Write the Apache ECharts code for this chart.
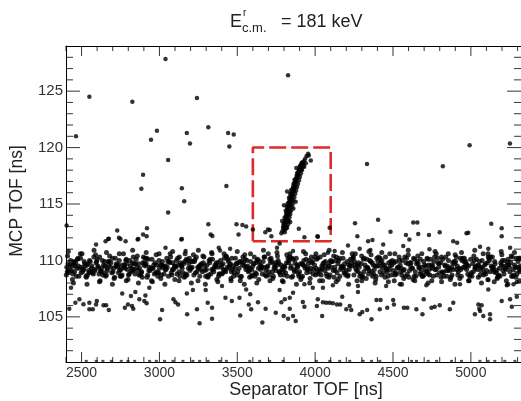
<!DOCTYPE html>
<html><head><meta charset="utf-8">
<script src="https://cdn.jsdelivr.net/npm/echarts@6/dist/echarts.min.js"></script>
<style>html,body{margin:0;padding:0;background:#fff}#c{width:521px;height:401px}</style>
</head><body><div id="c"></div>
<script>
const xRange = [2400, 5322];
const yRange = [101, 129];
const xMajorTicks = [2500, 3000, 3500, 4000, 4500, 5000];
const xMinorTicks = [2400,2600,2700,2800,2900,3100,3200,3300,3400,3600,3700,3800,3900,4100,4200,4300,4400,4600,4700,4800,4900,5100,5200,5300];
const yMajorTicks = [105, 110, 115, 120, 125];
const yMinorTicks = [102,103,104,106,107,108,109,111,112,113,114,116,117,118,119,121,122,123,124,126,127,128];
const boxX = [3600, 4100];
const boxY = [111.7, 120];

// dense band of events around 109.4 ns
const bandPoints = [
[2405,109.4],[2436,109.1],[2462,109.8],[2497,108.9],[2524,109.5],[2551,110.0],[2583,109.2],[2612,108.8],[2641,109.6],[2670,109.9],[2702,109.0],[2733,109.4],[2760,108.7],[2791,109.7],[2822,109.3],[2850,110.1],[2883,108.9],[2911,109.5],[2940,109.1],[2972,109.8],[3001,109.3],[3030,108.8],[3063,109.9],[3090,109.2],[3121,109.6],[3150,108.9],[3182,110.0],[3210,109.4],[3241,109.0],[3270,109.7],[3302,109.2],[3330,108.8],[3361,109.5],[3392,110.0],[3420,109.1],[3451,109.6],[3480,108.9],[3512,109.3],[3540,109.8],[3571,109.0],[3600,109.5],[3632,110.1],[3660,108.8],[3691,109.4],[3722,109.9],[3750,109.1],[3781,109.6],[3810,108.9],[3842,109.3],[3871,109.8],[3900,109.0],[3932,109.5],[3961,110.0],[3990,109.2],[4021,108.8],[4050,109.7],[4082,109.3],[4111,109.9],[4140,108.9],[4172,109.5],[4200,109.1],[4231,109.8],[4260,109.3],[4292,108.8],[4320,109.6],[4351,110.0],[4380,109.2],[4411,109.5],[4440,108.9],[4472,109.8],[4500,109.1],[4531,109.4],[4560,110.0],[4592,108.8],[4620,109.3],[4651,109.7],[4680,109.0],[4712,109.5],[4740,110.1],[4771,109.2],[4800,108.9],[4832,109.6],[4860,109.3],[4891,109.9],[4920,109.0],[4952,109.4],[4980,108.8],[5011,109.7],[5040,109.2],[5072,110.0],[5100,109.1],[5131,109.5],[5160,108.9],[5192,109.8],[5220,109.3],[5251,109.0],[5280,109.6],[5311,109.2],
[2418,108.9],[2449,109.7],[2477,110.2],[2510,109.2],[2538,108.7],[2566,109.5],[2597,109.9],[2626,109.0],[2655,108.6],[2686,109.4],[2717,110.2],[2745,109.1],[2776,109.6],[2806,108.8],[2836,109.2],[2866,109.7],[2897,110.3],[2925,108.7],[2956,109.3],[2987,109.0],[3015,109.6],[3047,110.2],[3076,108.9],[3106,109.4],[3135,109.8],[3166,108.6],[3196,109.1],[3225,109.9],[3256,109.5],[3286,110.3],[3316,108.7],[3345,109.2],[3376,109.8],[3406,108.9],[3436,109.4],[3465,110.2],[3496,109.7],[3526,108.6],[3555,109.2],[3586,109.9],[3616,108.9],[3646,109.6],[3676,110.3],[3706,108.7],[3736,109.3],[3766,109.8],[3796,109.1],[3826,110.2],[3856,108.6],[3886,109.4],[3916,109.7],[3946,108.9],[3976,110.3],[4006,109.3],[4036,109.1],[4066,109.9],[4096,108.7],[4126,109.4],[4156,110.2],[4186,108.9],[4216,109.6],[4246,110.3],[4276,109.0],[4306,108.6],[4336,109.4],[4366,109.8],[4396,110.2],[4426,108.7],[4456,109.3],[4486,109.9],[4516,108.9],[4546,109.6],[4576,110.3],[4606,109.1],[4636,108.6],[4666,109.4],[4696,109.9],[4726,108.8],[4756,109.5],[4786,110.2],[4816,109.0],[4846,108.6],[4876,109.4],[4906,110.3],[4936,109.2],[4966,109.7],[4996,108.7],[5026,109.3],[5056,109.9],[5086,108.9],[5116,110.2],[5146,109.4],[5176,108.6],[5206,109.1],[5236,109.8],[5266,110.3],[5296,108.8],[5318,109.5],
[2410,110.4],[2441,108.3],[2470,109.3],[2503,110.6],[2531,108.5],[2560,109.0],[2590,110.5],[2619,108.2],[2648,109.9],[2680,110.4],[2709,108.4],[2739,109.6],[2769,110.6],[2798,108.3],[2829,109.1],[2858,110.4],[2890,108.5],[2918,110.2],[2949,108.2],[2979,110.5],[3009,108.4],[3040,109.5],[3069,110.6],[3099,108.3],[3128,110.3],[3159,108.5],[3189,109.7],[3218,110.5],[3248,108.2],[3279,110.4],[3309,108.6],[3338,110.6],[3369,108.3],[3399,109.6],[3428,110.4],[3459,108.4],[3488,110.2],[3519,108.2],[3548,110.5],[3579,108.5],[3609,110.3],[3638,108.3],[3669,109.4],[3699,110.6],[3728,108.4],[3758,110.4],[3789,108.2],[3818,110.5],[3849,108.5],[3879,110.2],[3908,108.3],[3939,110.6],[3968,108.4],[3999,110.3],[4029,108.2],[4058,110.5],[4089,108.5],[4119,110.4],[4148,108.3],[4179,110.2],[4209,108.6],[4238,110.6],[4269,108.2],[4299,110.4],[4328,108.4],[4359,110.5],[4389,108.3],[4418,110.2],[4449,108.5],[4479,110.6],[4508,108.2],[4539,110.3],[4569,108.4],[4598,110.5],[4629,108.3],[4659,110.4],[4688,108.6],[4719,110.2],[4749,108.2],[4778,110.6],[4809,108.5],[4839,110.3],[4868,108.3],[4899,110.5],[4929,108.4],[4958,110.2],[4989,108.2],[5019,110.4],[5048,108.5],[5079,110.6],[5109,108.3],[5138,110.3],[5169,108.4],[5199,110.5],[5228,108.2],[5259,110.4],[5289,108.5],[5315,110.2],
[2426,109.6],[2455,109.0],[2488,109.3],[2517,109.9],[2545,109.1],[2576,108.8],[2604,109.5],[2634,110.0],[2663,109.3],[2694,108.9],[2724,109.7],[2752,109.2],[2784,110.0],[2813,109.5],[2843,108.8],[2873,109.3],[2904,109.8],[2932,109.1],[2963,109.6],[2994,108.9],[3022,109.4],[3054,109.9],[3083,109.2],[3113,108.8],[3142,109.5],[3173,110.1],[3203,109.3],[3232,108.9],[3263,109.6],[3293,109.1],[3323,109.8],[3352,109.4],[3383,108.8],[3413,109.2],[3443,109.9],[3472,109.5],[3503,109.0],[3533,109.6],[3562,110.0],[3593,109.2],[3623,108.8],[3653,109.5],[3683,109.1],[3713,109.8],[3743,109.4],[3773,108.9],[3803,109.5],[3833,110.0],[3863,109.2],[3893,108.8],[3923,109.6],[3953,109.3],[3983,109.9],[4013,109.0],[4043,109.5],[4073,108.8],[4103,109.4],[4133,110.0],[4163,109.2],[4193,108.9],[4223,109.5],[4253,109.9],[4283,109.4],[4313,109.0],[4343,108.8],[4373,109.6],[4403,109.9],[4433,109.3],[4463,109.0],[4493,109.6],[4523,108.8],[4553,109.3],[4583,109.8],[4613,109.5],[4643,109.0],[4673,108.8],[4703,109.6],[4733,109.2],[4763,109.9],[4793,109.4],[4823,108.9],[4853,109.1],[4883,109.8],[4913,109.5],[4943,110.0],[4973,109.2],[5003,108.9],[5033,109.5],[5063,109.1],[5093,109.7],[5123,109.0],[5153,109.9],[5183,109.3],[5213,108.8],[5243,109.6],[5273,109.2],[5303,109.9],
[2402,108.7],[2430,110.0],[2458,109.5],[2483,108.6],[2514,109.2],[2541,109.7],[2571,108.9],[2600,110.1],[2629,109.3],[2659,108.7],[2689,109.8],[2720,109.5],[2748,108.6],[2779,109.3],[2809,110.0],[2838,109.7],[2869,108.7],[2900,109.6],[2928,110.1],[2959,109.3],[2990,108.6],[3019,109.9],[3050,109.4],[3080,108.7],[3109,110.0],[3139,109.6],[3169,108.8],[3199,109.3],[3229,110.1],[3259,108.6],[3289,109.5],[3319,110.0],[3349,109.0],[3380,108.6],[3409,109.7],[3439,110.1],[3469,109.2],[3499,108.7],[3529,109.9],[3559,109.4],[3589,108.6],[3619,109.8],[3649,109.2],[3679,108.7],[3709,110.1],[3739,109.6],[3769,109.0],[3799,108.7],[3829,109.8],[3859,110.1],[3889,109.5],[3919,108.6],[3949,109.2],[3979,109.8],[4009,110.1],[4039,108.7],[4069,109.5],[4099,110.0],[4129,109.1],[4159,108.6],[4189,109.7],[4219,109.2],[4249,108.7],[4279,109.8],[4309,110.1],[4339,109.3],[4369,108.6],[4399,109.5],[4429,110.0],[4459,109.2],[4489,108.7],[4519,109.9],[4549,109.0],[4579,108.6],[4609,109.8],[4639,110.1],[4669,109.3],[4699,108.7],[4729,109.6],[4759,108.6],[4789,109.8],[4819,110.1],[4849,109.5],[4879,108.7],[4909,109.2],[4939,108.6],[4969,109.9],[4999,110.1],[5029,109.4],[5059,108.7],[5089,109.6],[5119,110.0],[5149,109.0],[5179,108.7],[5209,109.5],[5239,110.1],[5269,108.6],[5299,109.4],
[2415,110.8],[2448,108.0],[2492,110.6],[2535,107.9],[2580,110.9],[2615,108.1],[2660,110.7],[2698,107.9],[2742,110.6],[2787,108.2],[2828,110.9],[2865,108.0],[2915,110.7],[2955,108.1],[2998,110.6],[3035,107.9],[3085,110.8],[3126,108.2],[3165,110.6],[3205,108.0],[3250,110.9],[3295,107.9],[3335,110.7],[3375,108.1],[3415,110.6],[3460,108.2],[3500,110.8],[3545,107.9],[3585,110.6],[3625,108.0],[3668,110.9],[3710,108.2],[3755,110.7],[3795,108.1],[3838,110.6],[3880,107.9],[3925,110.8],[3965,108.0],[4005,110.6],[4048,108.2],[4090,110.9],[4135,108.1],[4175,110.7],[4215,107.9],[4258,110.6],[4300,108.2],[4345,110.8],[4385,108.0],[4428,110.7],[4470,108.1],[4512,110.6],[4555,107.9],[4598,110.9],[4640,108.2],[4685,110.6],[4725,108.0],[4770,110.8],[4812,108.1],[4855,110.6],[4898,107.9],[4940,110.7],[4985,108.2],[5025,110.9],[5068,108.0],[5110,110.6],[5150,108.1],[5195,110.8],[5238,107.9],[5280,110.7],[5312,108.2],
[2421,109.2],[2452,109.9],[2480,109.5],[2507,109.0],[2535,109.6],[2563,109.3],[2593,109.8],[2621,109.1],[2651,109.5],[2677,109.9],[2706,109.3],[2737,108.9],[2765,109.6],[2794,109.2],[2826,109.8],[2855,109.4],[2886,109.0],[2915,109.7],[2946,109.3],[2976,108.9],[3006,109.6],[3036,109.2],[3066,109.8],[3096,109.5],[3126,109.0],[3156,109.7],[3186,109.3],[3216,109.9],[3246,109.4],[3276,109.0],[3306,109.6],[3336,109.2],[3366,109.8],[3396,109.4],[3426,109.0],[3456,109.7],[3486,109.3],[3516,109.9],[3546,109.5],[3576,109.1],[3606,109.7],[3636,109.3],[3666,109.9],[3696,109.5],[3726,109.0],[3756,109.6],[3786,109.2],[3816,109.8],[3846,109.5],[3876,109.1],[3906,109.7],[3936,109.3],[3966,109.0],[3996,109.6],[4026,109.2],[4056,109.8],[4086,109.5],[4116,109.1],[4146,109.7],[4176,109.3],[4206,109.9],[4236,109.5],[4266,109.1],[4296,109.7],[4326,109.3],[4356,109.9],[4386,109.5],[4416,109.0],[4446,109.6],[4476,109.2],[4506,109.8],[4536,109.4],[4566,109.1],[4596,109.7],[4626,109.3],[4656,109.9],[4686,109.4],[4716,109.0],[4746,109.6],[4776,109.2],[4806,109.8],[4836,109.5],[4866,109.1],[4896,109.7],[4926,109.3],[4956,109.9],[4986,109.5],[5016,109.0],[5046,109.6],[5076,109.3],[5106,109.8],[5136,109.4],[5166,109.1],[5196,109.6],[5226,109.2],[5256,109.8],[5286,109.4],[5316,109.0],
[2408,109.0],[2439,109.5],[2466,108.6],[2494,110.2],[2520,109.7],[2548,108.9],[2579,110.3],[2608,109.4],[2637,108.7],[2666,109.1],[2698,110.2],[2727,109.6],[2756,108.6],[2787,110.1],[2817,109.0],[2846,109.7],[2878,108.7],[2907,110.2],[2936,109.4],[2967,108.8],[2997,110.0],[3026,109.5],[3058,108.6],[3086,109.8],[3117,110.2],[3146,109.3],[3177,108.7],[3206,109.9],[3237,110.3],[3266,109.2],[3297,108.6],[3326,110.1],[3357,109.6],[3387,108.8],[3416,110.2],[3447,109.3],[3476,108.6],[3507,109.8],[3536,110.3],[3567,109.5],[3596,108.7],[3627,110.0],[3656,109.4],[3687,108.6],[3717,110.2],[3746,109.8],[3777,108.7],[3806,109.4],[3837,110.3],[3867,109.0],[3896,108.6],[3927,110.0],[3956,109.7],[3987,108.8],[4016,110.2],[4047,109.3],[4076,108.6],[4107,109.9],[4136,110.3],[4167,109.4],[4196,108.7],[4227,110.1],[4256,109.6],[4287,108.6],[4316,110.2],[4347,109.1],[4376,108.8],[4407,110.3],[4436,109.6],[4467,108.6],[4496,110.0],[4527,109.3],[4556,108.7],[4587,110.2],[4616,109.8],[4647,108.6],[4676,110.1],[4707,109.1],[4736,108.7],[4767,110.3],[4796,109.7],[4827,108.6],[4856,110.0],[4887,109.2],[4916,108.7],[4947,110.2],[4976,109.6],[5007,108.6],[5036,110.1],[5067,109.4],[5096,108.8],[5127,110.3],[5156,109.7],[5187,108.6],[5216,110.0],[5247,109.4],[5276,108.7],[5307,110.2],
[2413,109.7],[2444,108.8],[2473,110.1],[2500,109.4],[2528,108.6],[2556,109.9],[2587,109.1],[2616,110.3],[2645,108.9],[2674,109.6],[2712,108.5],[2742,110.0],[2771,109.4],[2801,108.7],[2832,110.3],[2861,109.1],[2893,109.8],[2921,108.5],[2952,110.1],[2982,109.6],[3012,108.7],[3043,109.2],[3072,110.3],[3102,109.5],[3131,108.6],[3162,109.9],[3192,110.2],[3221,108.7],[3252,109.3],[3282,109.8],[3312,108.5],[3341,110.1],[3372,109.4],[3402,108.8],[3431,110.3],[3462,109.0],[3492,109.7],[3522,108.5],[3551,110.1],[3582,109.3],[3612,108.6],[3642,109.9],[3672,110.3],[3702,109.0],[3732,108.6],[3762,110.0],[3792,109.4],[3822,108.6],[3852,110.2],[3882,109.6],[3912,108.5],[3942,110.1],[3972,109.3],[4002,108.7],[4032,110.3],[4062,109.1],[4092,109.8],[4122,108.5],[4152,110.0],[4182,109.4],[4212,108.7],[4242,110.2],[4272,109.6],[4302,108.5],[4332,110.1],[4362,109.0],[4392,108.6],[4422,109.8],[4452,110.3],[4482,109.5],[4512,108.7],[4542,110.0],[4572,109.2],[4602,108.5],[4632,110.2],[4662,109.7],[4692,108.6],[4722,110.1],[4752,109.3],[4782,108.7],[4812,110.3],[4842,109.1],[4872,108.5],[4902,109.9],[4932,110.2],[4962,109.4],[4992,108.6],[5022,110.0],[5052,109.5],[5082,108.7],[5112,110.3],[5142,109.2],[5172,108.5],[5202,110.0],[5232,109.6],[5262,108.6],[5292,110.2],[5319,109.3]
];

// isolated events above and below the band
const outlierPoints = [
[3039,127.85],[2550,124.5],[2826,124.05],[3241,124.4],[3826,126.4],[2464,121.0],[2984,121.5],[2946,120.7],[3176,121.3],[3196,120.35],[3314,121.8],[3441,121.3],[3477,121.15],[3449,120.1],[3056,118.9],[2895,117.6],[2884,116.35],[3144,116.4],[3159,115.25],[3430,116.6],[3056,114.25],[2404,113.1],[2729,112.65],[2920,112.85],[2895,112.3],[2918,112.15],[3314,113.2],[3329,112.3],[3495,113.2],[3533,113.15],[3557,113.0],[3508,112.3],[3680,112.5],[3708,112.7],[3719,112.15],[2671,111.9],[2750,111.9],[2864,111.9],[3144,111.9],
[4333,118.55],[4820,118.35],[4992,120.2],[5251,120.35],[4256,113.3],[4404,113.6],[4630,113.35],[4656,113.35],[5131,113.25],[5198,112.85],[4271,112.15],[4484,112.55],[4583,112.25],[4662,112.35],[4731,112.25],[4800,112.5],[4972,112.4],[4983,112.45],[5198,112.15],[4015,112.15],[3931,112.05],[4093,112.9],
[3697,112.75],[4017,112.1],[3895,112.8],
[2654,111.71],[2675,111.92],[2593,111.42],[2740,112.0],[2783,111.71],[2860,111.86],[3039,111.12],[3140,111.86],[3168,110.83],[3340,112.16],[3381,111.12],[3389,110.89],[3454,111.03],[3600,112.75],[3755,111.12],[3772,111.5],
[4605,111.86],[4211,111.33],[4286,111.03],[4340,111.71],[4368,111.8],[4355,110.92],[4437,111.42],[4566,111.27],[4734,110.98],[4887,111.71],[4912,111.57],[5059,111.21],[5112,111.03],[5252,111.12],[4125,110.83],[4082,110.68],[3858,110.83],
[2432,107.58],[2421,105.72],[2460,106.26],[2486,106.55],[2512,106.11],[2550,106.26],[2550,105.67],[2572,105.67],[2598,106.4],[2593,106.1],[2641,106.02],[2658,106.02],[2675,105.6],[2761,107.08],[2778,105.8],[2798,106.1],[2817,106.84],[2824,105.96],[2832,105.72],[2845,107.2],[2871,106.55],[2903,106.4],[2910,106.9],[2918,106.2],[2935,107.58],[3004,104.78],[3017,105.6],[3090,106.55],[3103,106.3],[3120,106.1],[3176,107.08],[3178,105.22],[3215,107.38],[3241,105.67],[3258,104.43],[3297,107.38],[3310,106.26],[3338,105.81],[3338,104.84],[3402,107.73],[3424,106.7],[3465,106.4],[3514,106.7],[3519,105.13],[3557,107.43],[3574,106.1],[3583,107.0],[3589,105.67],[3633,106.3],[3661,104.49],[3682,105.72],[3747,105.37],[3772,107.38],[3783,106.3],[3805,106.55],[3798,105.07],[3826,104.84],
[3858,107.14],[3931,107.88],[3985,107.58],[4050,107.58],[4114,107.79],[3837,106.7],[3837,105.72],[3858,105.08],[3875,104.63],[3921,106.31],[3931,105.9],[4017,106.55],[4011,105.96],[4045,105.08],[4050,106.3],[4071,106.26],[4093,106.26],[4114,106.2],[4140,106.1],[4161,106.1],[4174,106.79],[4200,105.67],[4222,105.96],[4232,105.6],[4275,107.2],[4286,105.22],[4303,105.43],[4334,105.6],[4362,104.78],[4394,106.5],[4420,106.49],[4415,105.67],[4463,105.81],[4501,106.49],[4506,106.1],[4544,107.88],[4570,105.81],[4592,105.81],[4650,105.67],[4697,106.55],[4689,105.22],[4747,105.81],[4768,105.9],[4800,106.02],[4865,105.67],[4887,106.26],[4930,107.88],[5048,106.1],[5069,106.02],[5054,105.72],[5059,105.52],[5026,105.22],[5080,105.08],[5123,105.22],[5123,104.78],[5112,107.43],[5112,108.26],[5198,106.4],[5252,106.55],[5295,106.79],[5263,105.9],[5274,107.88],[5295,108.08],[4275,107.73],[4456,107.73],[4714,107.79],[5231,107.79]
];

// inclined group of events inside the gate
const streakPoints = [
[3790,112.6],[3802,112.7],[3812,112.8],[3796,113.0],[3808,113.1],[3820,112.9],[3800,113.3],[3815,113.4],[3826,113.2],[3806,113.6],[3818,113.7],[3830,113.5],[3812,113.9],[3823,114.0],[3835,113.8],[3815,114.2],[3828,114.3],[3840,114.1],[3820,114.5],[3832,114.6],[3845,114.4],[3826,114.8],[3838,114.9],[3850,114.7],[3830,115.1],[3843,115.2],[3856,115.0],[3836,115.4],[3848,115.5],[3861,115.3],[3842,115.7],[3854,115.8],[3866,115.6],[3848,116.0],[3860,116.1],[3872,115.9],[3854,116.3],[3866,116.4],[3878,116.2],[3860,116.6],[3872,116.7],[3884,116.5],[3867,116.9],[3878,117.0],[3890,116.8],[3874,117.2],[3885,117.3],[3896,117.1],[3881,117.5],[3892,117.6],[3902,117.4],[3888,117.8],[3899,117.9],[3909,117.7],[3896,118.1],[3906,118.2],[3915,118.0],[3904,118.4],[3914,118.5],[3922,118.3],[3918,118.7],[3928,118.8],[3936,119.0],[3945,119.25],[3955,119.45],[3940,118.6],[3930,118.3],
[3794,112.9],[3805,112.5],[3817,113.0],[3798,113.2],[3810,113.45],[3822,113.6],[3804,113.8],[3816,114.1],[3828,114.05],[3811,114.4],[3824,114.5],[3836,114.3],[3818,114.75],[3830,114.85],[3842,114.95],[3824,115.05],[3836,115.25],[3849,115.35],[3832,115.55],[3844,115.65],[3856,115.75],[3840,115.9],[3852,116.05],[3864,116.15],[3846,116.25],[3858,116.45],[3870,116.55],[3862,116.8],[3876,116.95],[3868,117.15],[3882,117.35],[3890,117.55],[3884,117.7],[3896,117.95],[3910,118.05],[3900,118.3],[3912,118.6],[3924,118.55],
[3783,112.4],[3840,113.4],[3788,113.5],[3860,114.6],[3800,114.9],[3875,115.2],[3820,116.1],
[3959,119.3],[3972,118.85],[3879,118.2],[3911,118.1]
];

// events piled at the lower edge of the frame
const floorPoints = [
[2530,101.1],[2594,101.1],[2637,101.1],[2691,101.1],[2755,101.1],[2798,101.1],[2841,101.1],[2937,101.1],[2980,101.1],[3033,101.1],[3087,101.1],[3151,101.1],[3215,101.1],[3258,101.1],[3312,101.1],[3387,101.1],[3430,101.1],[3580,101.1],[3644,101.1],[3708,101.1],[3794,101.1],[4008,101.1],[4094,101.1],[4158,101.1],[4222,101.1],[4308,101.1],[4362,101.1],[4415,101.1],[4565,101.1],[4619,101.1],[4651,101.1],[4726,101.1],[4780,101.1],[4876,101.1],[4940,101.1],[5058,101.1],[5111,101.1],[5154,101.1],[5218,101.1],[5283,101.1]
];

const FONT = '"Liberation Sans", Arial, Helvetica, sans-serif';
const TX_MIN = 5, TX_MAJ = 10, TY_MIN = 7, TY_MAJ = 14;
const frameLine = { show: true, onZero: false, lineStyle: { color: '#000', width: 1 } };

function ax(min, max, pos, labels, fs, margin) {
  return {
    type: 'value', min: min, max: max, position: pos,
    axisLine: frameLine,
    axisTick: { show: false },
    axisLabel: labels ? { show: true, customValues: labels, color: '#333', fontSize: fs, fontFamily: FONT, margin: margin,
      formatter: function (v) { return String(v); } } : { show: false },
    splitLine: { show: false }
  };
}

// tick marks drawn as thin rectangles placed through the axis scales
function tickSeries(data, size, offset) {
  return { type: 'scatter', xAxisIndex: 0, yAxisIndex: 0, data: data, symbol: 'rect', symbolSize: size, symbolOffset: offset,
    itemStyle: { color: '#000' }, silent: true, clip: false, z: 5 };
}

const chart = echarts.init(document.getElementById('c'), null, { renderer: 'canvas' });
chart.setOption({
  animation: false,
  backgroundColor: '#fff',
  grid: { left: 66, right: 0, top: 46, bottom: 39 },
  xAxis: [
    ax(xRange[0], xRange[1], 'bottom', xMajorTicks, 14, 4),
    ax(xRange[0], xRange[1], 'top', null)
  ],
  yAxis: [
    ax(yRange[0], yRange[1], 'left', yMajorTicks, 15, 3),
    ax(yRange[0], yRange[1], 'right', null)
  ],
  series: [
    { type: 'scatter', xAxisIndex: 0, yAxisIndex: 0, data: bandPoints, symbol: 'circle', symbolSize: 5, itemStyle: { color: '#000' }, silent: true },
    { type: 'scatter', xAxisIndex: 0, yAxisIndex: 0, data: outlierPoints, symbol: 'circle', symbolSize: 4.5, itemStyle: { color: '#000' }, silent: true },
    { type: 'scatter', xAxisIndex: 0, yAxisIndex: 0, data: streakPoints, symbol: 'circle', symbolSize: 4.5, itemStyle: { color: '#000' }, silent: true },
    { type: 'scatter', xAxisIndex: 0, yAxisIndex: 0, data: floorPoints, symbol: 'rect', symbolSize: [3, 2], itemStyle: { color: '#222' }, silent: true },
    { type: 'line', xAxisIndex: 0, yAxisIndex: 0,
      data: [[boxX[0], boxY[0]], [boxX[0], boxY[1]], [boxX[1], boxY[1]], [boxX[1], boxY[0]], [boxX[0], boxY[0]]],
      symbol: 'none', lineStyle: { color: '#e02a2a', width: 2.6, type: [17, 5] }, silent: true, z: 1 },
    tickSeries(xMinorTicks.map(function (v) { return [v, yRange[0]]; }), [1, TX_MIN], [0, -TX_MIN / 2]),
    tickSeries(xMajorTicks.map(function (v) { return [v, yRange[0]]; }), [1, TX_MAJ], [0, -TX_MAJ / 2]),
    tickSeries(xMinorTicks.map(function (v) { return [v, yRange[1]]; }), [1, TX_MIN], [0, TX_MIN / 2]),
    tickSeries(xMajorTicks.map(function (v) { return [v, yRange[1]]; }), [1, TX_MAJ], [0, TX_MAJ / 2]),
    tickSeries(yMinorTicks.map(function (v) { return [xRange[0], v]; }), [TY_MIN, 1], [TY_MIN / 2, 0]),
    tickSeries(yMajorTicks.map(function (v) { return [xRange[0], v]; }), [TY_MAJ, 1], [TY_MAJ / 2, 0]),
    tickSeries(yMinorTicks.map(function (v) { return [xRange[1], v]; }), [TY_MIN, 1], [-TY_MIN / 2, 0]),
    tickSeries(yMajorTicks.map(function (v) { return [xRange[1], v]; }), [TY_MAJ, 1], [-TY_MAJ / 2, 0])
  ],
  graphic: [
    { type: 'text', left: 230, top: 13, style: { text: 'E', font: '18px ' + FONT, fill: '#222' } },
    { type: 'text', left: 243, top: 8, style: { text: 'r', font: '10px ' + FONT, fill: '#222' } },
    { type: 'text', left: 242, top: 22, style: { text: 'c.m.', font: '13px ' + FONT, fill: '#222' } },
    { type: 'text', left: 281, top: 13, style: { text: '= 181 keV', font: '18px ' + FONT, fill: '#222' } },
    { type: 'text', x: 306, y: 390, style: { text: 'Separator TOF [ns]', font: '18px ' + FONT, fill: '#222', align: 'center', verticalAlign: 'middle' } },
    { type: 'text', x: 17, y: 201, rotation: Math.PI / 2, style: { text: 'MCP TOF [ns]', font: '17.5px ' + FONT, fill: '#222', align: 'center', verticalAlign: 'middle' } }
  ]
});
</script></body></html>
